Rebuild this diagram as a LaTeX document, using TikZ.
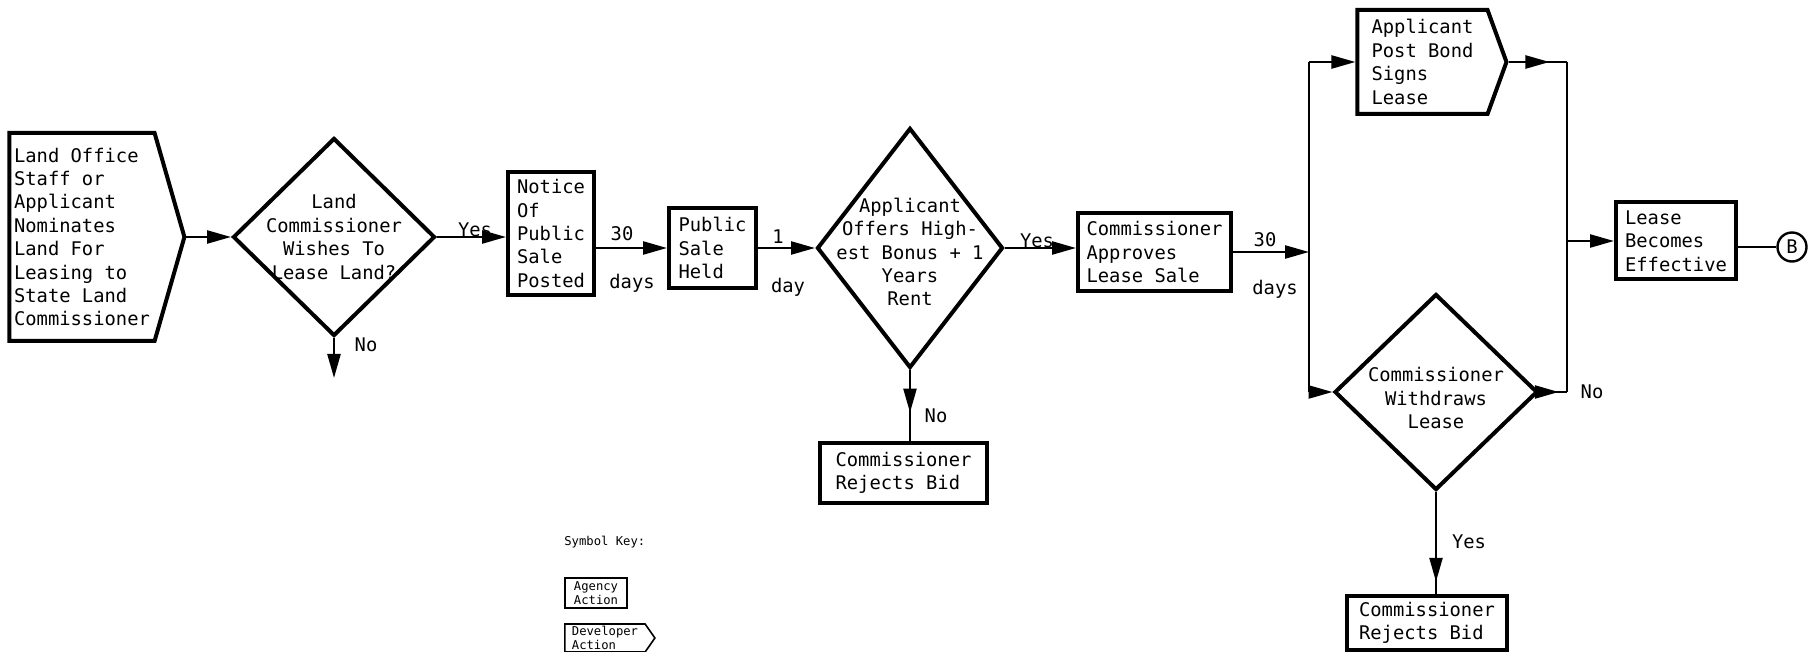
\documentclass[tikz,border=0pt]{standalone}
\usepackage{fontspec}
\setmonofont{DejaVu Sans Mono}
\usetikzlibrary{arrows.meta,shapes.geometric,shapes.symbols,decorations.markings}

\begin{document}
\begin{tikzpicture}[
    x=0.5pt, y=-0.5pt,
    every node/.style={font=\ttfamily\fontsize{9.4}{11.7}\selectfont},
    agency/.style={rectangle, draw=black, line width=2pt, align=left, inner xsep=4pt, inner ysep=2pt},
    developer/.style={signal, signal to=east, signal from=nowhere, draw=black, line width=2pt, align=left, inner xsep=1pt, inner ysep=2pt},
    decide/.style={diamond, draw=black, line width=2pt, inner sep=0pt},
    txt/.style={align=center, inner sep=0pt},
    tag/.style={inner sep=0pt},
    keyfont/.style={font=\ttfamily\fontsize{6.1}{7}\selectfont},
    flow/.style={-{Triangle[length=12pt,width=6.5pt]}, line width=1.2pt},
    link/.style={line width=1.2pt},
    midflow/.style={line width=1.2pt, postaction={decorate},
        decoration={markings, mark=at position #1 with {\arrow{Triangle[length=12pt,width=6.5pt]}}}},
]
\useasboundingbox (0,0) rectangle (1816,652);

% main line
\node[developer, signal pointer angle=148, minimum width=87.5pt, minimum height=104pt] (office) at (82,237) {Land Office\\Staff or\\Applicant\\Nominates\\Land For\\Leasing to\\State Land\\Commissioner};
\node[decide, minimum width=101pt, minimum height=99pt] (wish) at (334,237) {};
\node[txt] (wisht) at (wish) {Land\\Commissioner\\Wishes To\\Lease Land?};
\node[agency, minimum width=43pt, minimum height=61.5pt] (notice) at (551,233.5) {Notice\\Of\\Public\\Sale\\Posted};
\node[agency, minimum width=43.5pt, minimum height=40pt] (held) at (712.5,248) {Public\\Sale\\Held};
\node[decide, minimum width=93pt, minimum height=120pt] (offer) at (910,248) {};
\node[txt, yshift=-2pt] (offert) at (offer) {Applicant\\Offers High-\\est Bonus + 1\\Years\\Rent};
\node[agency, minimum width=83.5pt, minimum height=30pt] (reject) at (903.5,473) {Commissioner\\Rejects Bid};
\node[agency, minimum width=76.5pt, minimum height=39pt] (approve) at (1154.5,252) {Commissioner\\Approves\\Lease Sale};

% right part
\node[developer, signal pointer angle=140, minimum width=74.5pt, minimum height=52pt] (bond) at (1422.5,62) {Applicant\\Post Bond\\Signs\\Lease};
\node[decide, minimum width=101.5pt, minimum height=98pt] (withdraw) at (1436,392) {};
\node[txt, yshift=-3pt] (withdrawt) at (withdraw) {Commissioner\\Withdraws\\Lease};
\node[agency, minimum width=80pt, minimum height=27pt] (reject2) at (1427,623) {Commissioner\\Rejects Bid};
\node[agency, minimum width=60pt, minimum height=38.5pt] (effect) at (1676,241) {Lease\\Becomes\\Effective};
\node[circle, draw=black, line width=1.2pt, minimum size=14.5pt, inner sep=0pt] (conn) at (1792,247) {B};

% labels
\node[tag] (yes1) at (475,230) {Yes};
\node[tag] (no1) at (366,345) {No};
\node[tag] (t30a) at (622,234) {30};
\node[tag] (days1) at (632,283) {days};
\node[tag] (t1) at (778,237) {1};
\node[tag] (day1) at (788,287) {day};
\node[tag] (yes2) at (1037,241) {Yes};
\node[tag] (no2) at (936,416) {No};
\node[tag] (t30b) at (1265,240) {30};
\node[tag] (days2) at (1275,289) {days};
\node[tag] (no3) at (1592,392) {No};
\node[tag] (yes3) at (1469,542) {Yes};

\coordinate (wishno) at ([yshift=-20pt]wish.south);
\coordinate (split) at (1309,252);
\coordinate (splittop) at (split |- bond.west);
\coordinate (splitbot) at (split |- withdraw.west);
\coordinate (merge) at (1567,241);
\coordinate (mergetop) at (merge |- bond.east);
\coordinate (mergebot) at (merge |- withdraw.east);

\draw[flow] (office.east) -- (wish.west);
\draw[flow] (wish.south) -- (wishno);
\draw[flow] (wish.east) -- (wish.east -| notice.west);
\draw[flow] (held.west -| notice.east) -- (held.west);
\draw[flow] (held.east) -- (offer.west);
\draw[flow] (offer.east) -- (offer.east -| approve.west);
\draw[midflow=0.6] (offer.south) -- (offer.south |- reject.north);
\draw[flow] (approve.east) -- (split);
\draw[link] (splittop) -- (splitbot);
\draw[flow] (splittop) -- (bond.west);
\draw[flow] (splitbot) -- (withdraw.west);
\draw[midflow=0.7] (bond.east) -- (mergetop);
\draw[midflow=0.7] (withdraw.east) -- (mergebot);
\draw[link] (mergetop) -- (mergebot);
\draw[flow] (merge) -- (effect.west);
\draw[midflow=0.88] (withdraw.south) -- (withdraw.south |- reject2.north);
\draw[link] (conn.west -| effect.east) -- (conn.west);

% symbol key
\node[keyfont, anchor=west, inner sep=0pt] (keytitle) at (564,542) {Symbol Key:};
\node[agency, keyfont, line width=0.8pt, minimum width=31pt, minimum height=15pt, inner sep=1pt] (keyagency) at (596,593) {Agency\\Action};
\node[developer, keyfont, line width=0.8pt, signal pointer angle=110, minimum width=45pt, minimum height=14pt, inner sep=1pt] (keydev) at (605,638) {Developer\\Action};

\end{tikzpicture}
\end{document}
